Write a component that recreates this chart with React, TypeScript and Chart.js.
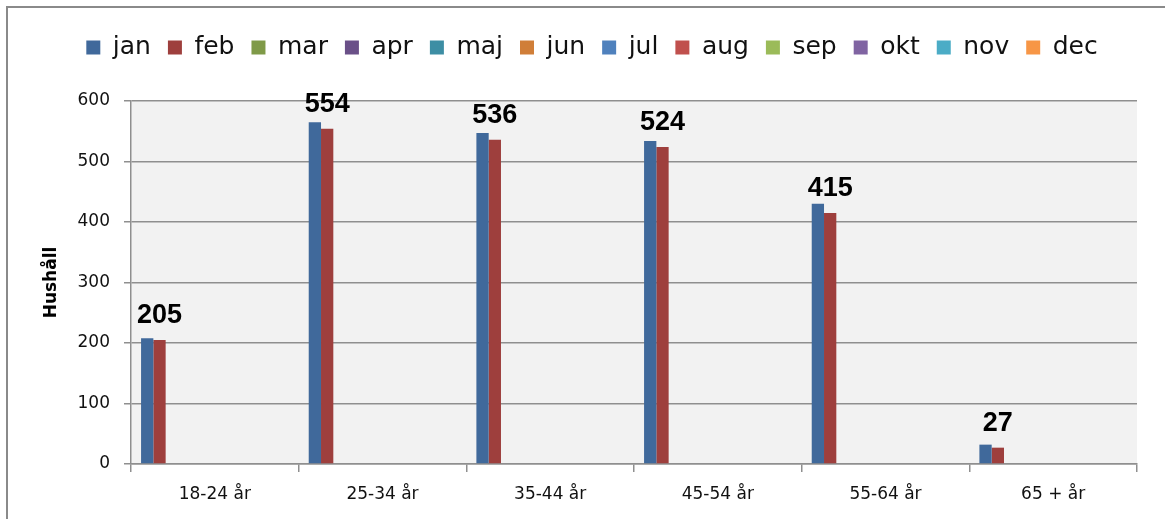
import React, { useEffect, useRef } from 'react';
import { Chart, registerables } from 'chart.js';

Chart.register(...registerables);

const categories = ['18-24 år', '25-34 år', '35-44 år', '45-54 år', '55-64 år', '65 + år'];
const months = ['jan', 'feb', 'mar', 'apr', 'maj', 'jun', 'jul', 'aug', 'sep', 'okt', 'nov', 'dec'];
const janValues = [208, 565, 547, 534, 430, 32];
const febValues = [205, 554, 536, 524, 415, 27];
const monthColors = [
  '#40699b', '#9e3f3d', '#7f9a48', '#6a5088', '#3d8ea4', '#d07e38',
  '#4f81bd', '#c0504d', '#9bbb59', '#8064a2', '#4bacc6', '#f79646',
];
const yMin = 0;
const yMax = 600;
const yStep = 100;
const yTitle = 'Hushåll';

const W = 1184;
const H = 519;
const PAD_TOP = 18;
const PLOT_TOP = 101;
const PLOT_BOTTOM = 464;
const PLOT_LEFT = 131;
const PLOT_RIGHT = 1137;

const TEXT_FONT = "'DejaVu Sans', sans-serif";
const GRID = '#8f8f8f';

export default function App() {
  const ref = useRef<HTMLCanvasElement | null>(null);

  useEffect(() => {
    document.body.style.margin = '0';
    document.body.style.overflow = 'hidden';
    const canvas = ref.current;
    if (!canvas) return;

    const datasets = months.map((m, i) => ({
      label: m,
      data: i === 0 ? janValues : i === 1 ? febValues : categories.map(() => null),
      backgroundColor: monthColors[i],
      borderWidth: 0,
      barPercentage: 1,
      categoryPercentage: 0.88,
    }));

    const frame = {
      id: 'frame',
      beforeDraw(chart: any) {
        const { ctx, chartArea } = chart;
        ctx.save();
        ctx.fillStyle = '#ffffff';
        ctx.fillRect(0, 0, chart.width, chart.height);
        ctx.strokeStyle = '#8a8a8a';
        ctx.lineWidth = 2;
        ctx.strokeRect(7, 7, chart.width + 20, chart.height + 20);
        ctx.fillStyle = '#f2f2f2';
        ctx.fillRect(chartArea.left, chartArea.top, chartArea.right - chartArea.left, chartArea.bottom - chartArea.top);
        ctx.restore();
      },
    };

    const legendSpace = {
      id: 'legendSpace',
      beforeLayout(chart: any) {
        const lg = chart.legend;
        if (lg && !lg.__patched) {
          const orig = lg.fit;
          lg.fit = function () {
            orig.call(this);
            this.height = PLOT_TOP - PAD_TOP;
          };
          lg.__patched = true;
        }
      },
    };

    const valueLabels = {
      id: 'valueLabels',
      afterDatasetsDraw(chart: any) {
        const { ctx } = chart;
        const meta = chart.getDatasetMeta(1);
        ctx.save();
        ctx.font = "bold 27px 'Liberation Sans', sans-serif";
        ctx.fillStyle = '#000';
        ctx.textAlign = 'center';
        ctx.textBaseline = 'alphabetic';
        meta.data.forEach((bar: any, i: number) => {
          ctx.fillText(String(febValues[i]), bar.x, bar.y - 17);
        });
        ctx.restore();
      },
    };

    const chart = new Chart(canvas, {
      type: 'bar',
      data: { labels: categories, datasets },
      options: {
        responsive: false,
        animation: false,
        layout: { padding: { top: PAD_TOP, left: 0, right: 0, bottom: 0 } },
        plugins: {
          legend: {
            position: 'top',
            labels: {
              boxWidth: 14,
              boxHeight: 14,
              padding: 17,
              color: '#111',
              font: { family: TEXT_FONT, size: 25 },
            },
          },
          tooltip: { enabled: false },
        },
        scales: {
          x: {
            grid: {
              offset: true,
              drawOnChartArea: false,
              drawTicks: true,
              tickLength: 8,
              color: GRID,
              lineWidth: 1.5,
            },
            border: { display: true, color: GRID, width: 1.5 },
            ticks: {
              color: '#111',
              padding: 12,
              font: { family: TEXT_FONT, size: 17 },
            },
            afterFit(s: any) {
              s.height = H - PLOT_BOTTOM;
            },
          },
          y: {
            min: yMin,
            max: yMax,
            grid: { color: GRID, lineWidth: 1.5, tickLength: 7 },
            border: { display: true, color: GRID, width: 1.5 },
            ticks: {
              stepSize: yStep,
              color: '#111',
              padding: 14,
              font: { family: TEXT_FONT, size: 17 },
            },
            title: {
              display: true,
              text: yTitle,
              color: '#000',
              font: { family: TEXT_FONT, size: 17, weight: 'bold' },
              padding: { top: 41, bottom: 0 },
            },
            afterFit(s: any) {
              s.width = PLOT_LEFT;
            },
          },
          yRight: {
            position: 'right',
            display: true,
            grid: { display: false, drawTicks: false },
            border: { display: false },
            ticks: { display: false },
            afterFit(s: any) {
              s.width = W - PLOT_RIGHT;
            },
          },
        },
      } as any,
      plugins: [frame, legendSpace, valueLabels],
    });

    return () => chart.destroy();
  }, []);

  return (
    <div style={{ width: W, height: H }}>
      <canvas ref={ref} width={W} height={H} style={{ display: 'block' }} />
    </div>
  );
}
